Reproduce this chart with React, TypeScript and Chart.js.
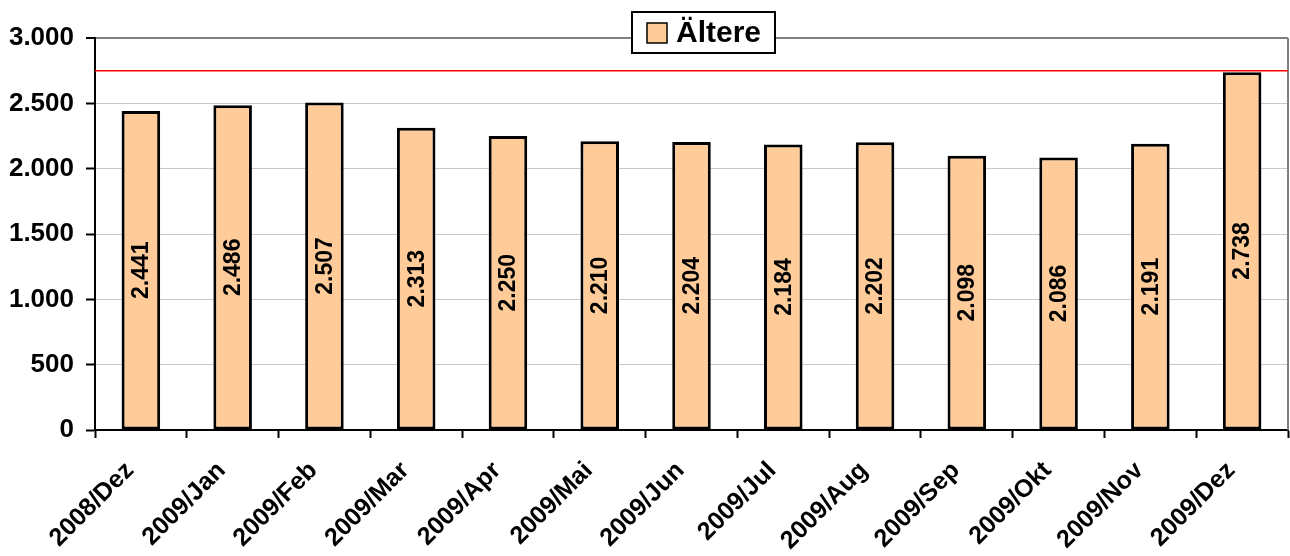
import React, { useEffect, useRef } from "react";
import { Chart, registerables } from "chart.js";

Chart.register(...registerables);

const categories = [
  "2008/Dez", "2009/Jan", "2009/Feb", "2009/Mar", "2009/Apr", "2009/Mai", "2009/Jun",
  "2009/Jul", "2009/Aug", "2009/Sep", "2009/Okt", "2009/Nov", "2009/Dez",
];
const aeltereValues = [2441, 2486, 2507, 2313, 2250, 2210, 2204, 2184, 2202, 2098, 2086, 2191, 2738];
const seriesName = "Ältere";
const referenceLineValue = 2750;
const yTicks = [0, 500, 1000, 1500, 2000, 2500, 3000];

const FONT = "'Liberation Sans', Arial, sans-serif";
const fmt = (n: number) => String(n).replace(/\B(?=(\d{3})+(?!\d))/g, ".");

const customPlugin = {
  id: "custom",
  afterDatasetsDraw(chart: any) {
    const ctx = chart.ctx;
    const area = chart.chartArea;
    ctx.save();
    ctx.strokeStyle = "#808080";
    ctx.lineWidth = 2;
    ctx.beginPath();
    ctx.moveTo(area.right, area.top);
    ctx.lineTo(area.right, area.bottom);
    ctx.stroke();
    const yScale = chart.scales.y;
    const yr = yScale.getPixelForValue(referenceLineValue);
    ctx.strokeStyle = "#ff0000";
    ctx.lineWidth = 1.5;
    ctx.beginPath();
    ctx.moveTo(area.left, yr);
    ctx.lineTo(area.right, yr);
    ctx.stroke();
    const meta = chart.getDatasetMeta(0);
    ctx.fillStyle = "#000";
    ctx.font = `bold 23px ${FONT}`;
    ctx.textAlign = "center";
    ctx.textBaseline = "middle";
    meta.data.forEach((bar: any, i: number) => {
      const cy = (bar.y + bar.base) / 2;
      ctx.save();
      ctx.translate(bar.x, cy);
      ctx.rotate(-Math.PI / 2);
      ctx.fillText(fmt(aeltereValues[i]), 0, 1);
      ctx.restore();
    });
    ctx.restore();
  },
  afterDraw(chart: any) {
    const ctx = chart.ctx;
    ctx.save();
    const bx = 632, by = 12, bw = 143, bh = 41;
    ctx.fillStyle = "#fff";
    ctx.fillRect(bx, by, bw, bh);
    ctx.strokeStyle = "#000";
    ctx.lineWidth = 2;
    ctx.strokeRect(bx, by, bw, bh);
    ctx.fillStyle = "#FFCC99";
    ctx.fillRect(647, 23, 20, 20);
    ctx.lineWidth = 1.5;
    ctx.strokeRect(647, 23, 20, 20);
    ctx.fillStyle = "#000";
    ctx.font = `bold 30px ${FONT}`;
    ctx.textAlign = "left";
    ctx.textBaseline = "middle";
    ctx.fillText(seriesName, 676, 34);
    ctx.restore();
  },
};

export default function App() {
  const ref = useRef<HTMLCanvasElement>(null);
  useEffect(() => {
    document.body.style.margin = "0";
    const chart = new Chart(ref.current!, {
      type: "bar",
      data: {
        labels: categories,
        datasets: [
          {
            label: seriesName,
            data: aeltereValues,
            backgroundColor: "#FFCC99",
            borderColor: "#000",
            borderWidth: 3,
            borderSkipped: false,
            barPercentage: 0.42,
            categoryPercentage: 1,
          },
        ],
      },
      options: {
        animation: false,
        responsive: false,
        devicePixelRatio: 1,
        layout: { padding: { top: 38, right: 2, left: 0, bottom: 0 } },
        plugins: { legend: { display: false }, tooltip: { enabled: false } },
        scales: {
          x: {
            grid: {
              offset: true,
              drawOnChartArea: false,
              drawTicks: true,
              tickLength: 8,
              tickColor: "#000",
              tickWidth: 2,
            },
            border: { color: "#000", width: 2 },
            ticks: {
              maxRotation: 45,
              minRotation: 45,
              color: "#000",
              font: { family: FONT, size: 25, weight: "bold" },
              padding: 18,
              labelOffset: -11,
            },
            afterFit(scale: any) {
              scale.height = 126;
            },
          },
          y: {
            min: 0,
            max: 3000,
            afterBuildTicks(scale: any) {
              scale.ticks = yTicks.map((v) => ({ value: v }));
            },
            grid: {
              color: (c: any) =>
                c.tick && c.tick.value === 3000 ? "#808080" : c.tick && c.tick.value === 0 ? "rgba(0,0,0,0)" : "#c8c8c8",
              lineWidth: (c: any) => (c.tick && c.tick.value === 3000 ? 2 : 1),
              tickLength: 9,
              tickColor: "#000",
              tickWidth: 2,
            },
            border: { color: "#000", width: 2 },
            ticks: {
              color: "#000",
              padding: 12,
              font: { family: FONT, size: 26, weight: "bold" },
              callback: (v: any) => fmt(Number(v)),
            },
            afterFit(scale: any) {
              scale.width = 95;
            },
          },
        },
      },
      plugins: [customPlugin],
    });
    return () => chart.destroy();
  }, []);
  return (
    <div style={{ width: 1290, height: 556 }}>
      <canvas ref={ref} width={1290} height={556} style={{ display: "block" }} />
    </div>
  );
}
